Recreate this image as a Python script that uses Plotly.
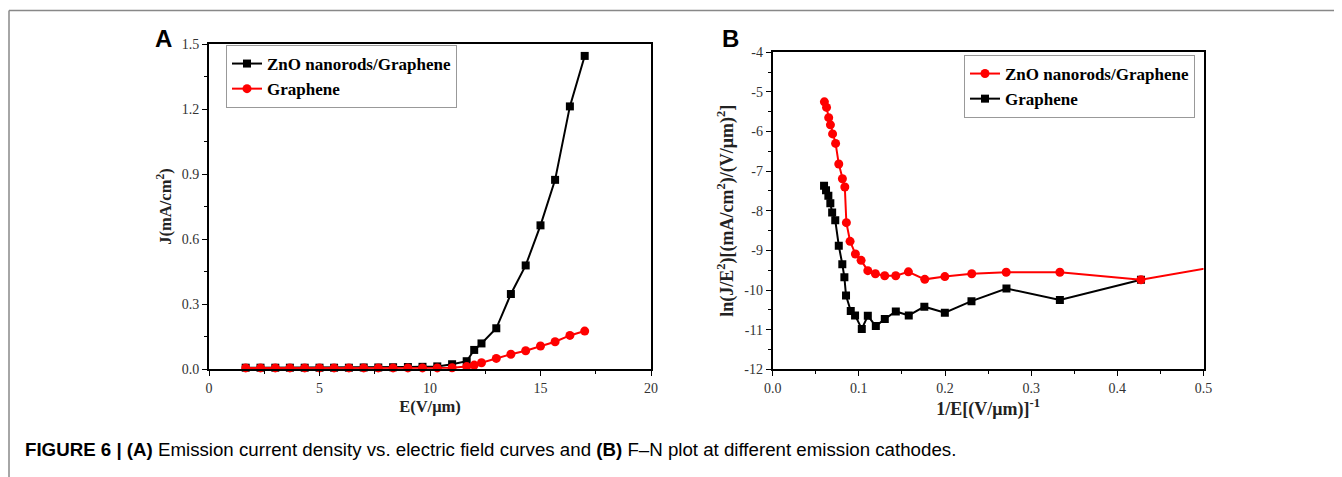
import plotly.graph_objects as go

# ---------------- data ----------------
# Panel A: J vs E
E_field = [1.66, 2.33, 3.0, 3.66, 4.33, 5.0, 5.66, 6.33, 7.0, 7.66, 8.33, 9.0, 9.66,
           10.33, 11.0, 11.66, 12.0, 12.33, 13.0, 13.66, 14.33, 15.0, 15.66, 16.33, 17.0]
J_zno = [0.006, 0.006, 0.006, 0.006, 0.006, 0.006, 0.006, 0.006, 0.007, 0.007, 0.008, 0.009, 0.010,
         0.012, 0.022, 0.036, 0.088, 0.118, 0.188, 0.346, 0.478, 0.663, 0.873, 1.212, 1.445]
J_gr = [0.005, 0.005, 0.005, 0.005, 0.005, 0.005, 0.005, 0.005, 0.005, 0.005, 0.005, 0.005, 0.005,
        0.005, 0.006, 0.011, 0.018, 0.029, 0.049, 0.068, 0.084, 0.106, 0.126, 0.155, 0.175]

# Panel B: F-N plot
invE_zno = [0.0600, 0.0625, 0.0650, 0.0670, 0.0695, 0.0730, 0.0767, 0.0809, 0.0837, 0.0855, 0.0898,
            0.0960, 0.1026, 0.1104, 0.1192, 0.1300, 0.1428, 0.1575, 0.1765, 0.1998, 0.2310, 0.2710,
            0.3333, 0.4274, 0.6000]
FN_zno = [-5.25, -5.39, -5.65, -5.83, -6.06, -6.30, -6.82, -7.19, -7.40, -8.30, -8.77,
          -9.09, -9.25, -9.51, -9.59, -9.64, -9.64, -9.54, -9.73, -9.66, -9.59, -9.55,
          -9.55, -9.74, -9.09]
invE_gr = [0.0596, 0.0619, 0.0646, 0.0669, 0.0690, 0.0726, 0.0767, 0.0808, 0.0832, 0.0851, 0.0906,
           0.0956, 0.1034, 0.1104, 0.1197, 0.1301, 0.1429, 0.1579, 0.1760, 0.1998, 0.2307, 0.2713,
           0.3333, 0.4274]
FN_gr = [-7.37, -7.48, -7.62, -7.81, -8.04, -8.24, -8.88, -9.35, -9.68, -10.14, -10.53,
         -10.64, -10.98, -10.65, -10.91, -10.73, -10.54, -10.64, -10.42, -10.57, -10.28, -9.96,
         -10.25, -9.74]

# tick labels
A_x_ticks = [0, 5, 10, 15, 20]
A_x_labels = ["0", "5", "10", "15", "20"]
A_y_ticks = [0.0, 0.3, 0.6, 0.9, 1.2, 1.5]
A_y_labels = ["0.0", "0.3", "0.6", "0.9", "1.2", "1.5"]
B_x_ticks = [0.0, 0.1, 0.2, 0.3, 0.4, 0.5]
B_x_labels = ["0.0", "0.1", "0.2", "0.3", "0.4", "0.5"]
B_y_ticks = [-12, -11, -10, -9, -8, -7, -6, -5, -4]
B_y_labels = ["-12", "-11", "-10", "-9", "-8", "-7", "-6", "-5", "-4"]

# the page body has an 8px margin; figure is sized to fit the 1342x477 window
OFF = 8
W, H = 1342 - OFF, 477 - OFF
def px(x):
    return (x - OFF) / W
def py(y):
    return 1 - (y - OFF) / H

SERIF = "Liberation Serif, Times New Roman, serif"
SANS = "Liberation Sans, Arial, sans-serif"

fig = go.Figure()

# Panel A traces
fig.add_trace(go.Scatter(x=E_field, y=J_zno, mode="lines+markers", name="ZnO nanorods/Graphene",
                         line=dict(color="black", width=2),
                         marker=dict(symbol="square", size=8, color="black"),
                         xaxis="x", yaxis="y", legend="legend", legendrank=1, cliponaxis=False))
fig.add_trace(go.Scatter(x=E_field, y=J_gr, mode="lines+markers", name="Graphene",
                         line=dict(color="#ff0000", width=2),
                         marker=dict(symbol="circle", size=9, color="#ff0000"),
                         xaxis="x", yaxis="y", legend="legend", legendrank=2, cliponaxis=False))

# Panel B traces
fig.add_trace(go.Scatter(x=invE_gr, y=FN_gr, mode="lines+markers", name="Graphene",
                         line=dict(color="black", width=2),
                         marker=dict(symbol="square", size=8, color="black"),
                         xaxis="x2", yaxis="y2", legend="legend2", legendrank=2))
fig.add_trace(go.Scatter(x=invE_zno, y=FN_zno, mode="lines+markers", name="ZnO nanorods/Graphene",
                         line=dict(color="#ff0000", width=2),
                         marker=dict(symbol="circle", size=9, color="#ff0000"),
                         xaxis="x2", yaxis="y2", legend="legend2", legendrank=1))

tickfont = dict(family=SERIF, size=14, color="#333333")

def ax(domain, rng, tv, tt, minor, title, anchor, tsize):
    return dict(domain=domain, range=rng, tickmode="array", tickvals=tv, ticktext=tt,
                showline=True, linecolor="black", linewidth=1.8, mirror=True,
                ticks="outside", ticklen=5, tickwidth=1.3, tickcolor="black",
                minor=dict(dtick=minor, tick0=rng[0], ticks="outside", ticklen=3,
                           tickwidth=1.3, tickcolor="black", showgrid=False),
                showgrid=False, zeroline=False, tickfont=tickfont, automargin=False,
                title=dict(text=title, font=dict(family=SERIF, size=tsize, color="#222222"),
                           standoff=6), anchor=anchor)

legend_common = dict(bgcolor="white", bordercolor="#999999", borderwidth=1,
                     font=dict(family=SERIF, size=17, color="black", weight="bold"),
                     xanchor="left", yanchor="top", tracegroupgap=0, itemwidth=30,
                     traceorder="normal")

fig.update_layout(
    template="none",
    width=W, height=H,
    margin=dict(l=0, r=0, t=0, b=0, pad=0, autoexpand=False),
    paper_bgcolor="white", plot_bgcolor="white",
    showlegend=True,
    xaxis=ax([px(209), px(651)], [0, 20], A_x_ticks, A_x_labels, 2.5, "<b>E(V/μm)</b>", "y", 16.5),
    yaxis=ax([py(369), py(44)], [0, 1.5], A_y_ticks, A_y_labels, 0.15,
             "<b>J(mA/cm<sup>2</sup>)</b>", "x", 16.5),
    xaxis2=ax([px(772.7), px(1203.5)], [0, 0.5], B_x_ticks, B_x_labels, 0.05,
              "<b>1/E[(V/μm)]<sup>-1</sup></b>", "y2", 18),
    yaxis2=ax([py(369.3), py(52.3)], [-12, -4], B_y_ticks, B_y_labels, 0.5,
              "<b>ln(J/E<sup>2</sup>)[(mA/cm<sup>2</sup>)/(V/μm)<sup>2</sup>]</b>", "x2", 18),
    legend=dict(x=px(226), y=py(45), **legend_common),
    legend2=dict(x=px(964), y=py(55), **legend_common),
)

# Panel letters
fig.add_annotation(text="<b>A</b>", x=px(153), y=py(38), xref="paper", yref="paper",
                   xanchor="left", yanchor="middle", showarrow=False,
                   font=dict(family=SANS, size=24, color="black"))
fig.add_annotation(text="<b>B</b>", x=px(720), y=py(38), xref="paper", yref="paper",
                   xanchor="left", yanchor="middle", showarrow=False,
                   font=dict(family=SANS, size=24, color="black"))

# Caption
fig.add_annotation(text="<b>FIGURE 6 | (A)</b> Emission current density vs. electric field curves and "
                        "<b>(B)</b> F–N plot at different emission cathodes.",
                   x=px(23), y=py(449), xref="paper", yref="paper",
                   xanchor="left", yanchor="middle", showarrow=False,
                   font=dict(family=SANS, size=18.7, color="black"))

# Frame lines (top and left)
fig.add_shape(type="line", xref="paper", yref="paper", x0=px(9), x1=1, y0=py(10.5), y1=py(10.5),
              line=dict(color="#888888", width=1.5))
fig.add_shape(type="line", xref="paper", yref="paper", x0=px(9), x1=px(9), y0=0, y1=py(10.5),
              line=dict(color="#888888", width=1.5))

fig.write_html("out.html")
